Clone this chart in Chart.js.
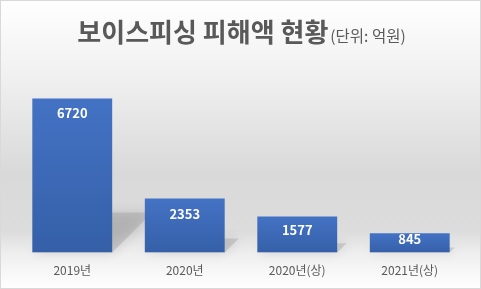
<!DOCTYPE html>
<html><head><meta charset="utf-8">
<script src="https://cdn.jsdelivr.net/npm/chart.js@4"></script>
<style>html,body{margin:0;padding:0;background:#fff}#wrap{width:481px;height:289px;position:relative}</style>
</head><body><div id="wrap"><canvas id="c"></canvas></div>
<script>
const categories = ['2019년', '2020년', '2020년(상)', '2021년(상)'];
const damageValues = [6720, 2353, 1577, 845];
const titleMain = '보이스피싱 피해액 현황';
const titleUnit = '(단위: 억원)';
const FONT = '"Noto Sans CJK KR", "Noto Sans", sans-serif';

const bgPlugin = {
  id: 'bg',
  beforeDraw(chart) {
    const {ctx, width, height} = chart;
    const g = ctx.createLinearGradient(0, 0, 0, height);
    g.addColorStop(0, '#ffffff');
    g.addColorStop(0.25, '#f1f1f1');
    g.addColorStop(0.6, '#d9d9d9');
    g.addColorStop(0.8, '#dcdcdc');
    g.addColorStop(0.88, '#efefef');
    g.addColorStop(1, '#ffffff');
    ctx.save();
    ctx.fillStyle = g;
    ctx.fillRect(0, 0, width, height);
    ctx.strokeStyle = '#d9d9d9';
    ctx.lineWidth = 1;
    ctx.strokeRect(0.5, 0.5, width - 1, height - 1);
    ctx.fillStyle = '#595959';
    ctx.textBaseline = 'alphabetic';
    ctx.font = 'bold 26px ' + FONT;
    const w1 = ctx.measureText(titleMain).width;
    ctx.font = '15.5px ' + FONT;
    const w2 = ctx.measureText(titleUnit).width;
    const x0 = (width - w1 - w2) / 2;
    ctx.font = 'bold 26px ' + FONT;
    ctx.textAlign = 'left';
    ctx.fillText(titleMain, x0, 42);
    ctx.font = '15.5px ' + FONT;
    ctx.fillText(titleUnit, x0 + w1 + 2, 42);
    ctx.restore();
  },
  beforeDatasetsDraw(chart) {
    const {ctx} = chart;
    const meta = chart.getDatasetMeta(0);
    ctx.save();
    meta.data.forEach(bar => {
      const left = bar.x - bar.width / 2, right = bar.x + bar.width / 2;
      const bottom = bar.base, h = bar.base - bar.y;
      const s = h * 0.26;
      ctx.shadowColor = 'rgba(0,0,0,0.35)';
      ctx.shadowBlur = 12;
      ctx.fillStyle = 'rgba(150,150,150,0.35)';
      ctx.beginPath();
      ctx.moveTo(left, bottom);
      ctx.lineTo(right, bottom);
      ctx.lineTo(right + s, bottom - s);
      ctx.lineTo(left + s, bottom - s);
      ctx.closePath();
      ctx.fill();
    });
    ctx.restore();
  },
  afterDatasetsDraw(chart) {
    const {ctx} = chart;
    const meta = chart.getDatasetMeta(0);
    ctx.save();
    ctx.fillStyle = '#ffffff';
    ctx.font = 'bold 13px ' + FONT;
    ctx.textAlign = 'center';
    ctx.textBaseline = 'middle';
    meta.data.forEach((bar, i) => {
      const mid = (bar.y + bar.base) / 2;
      const y = Math.min(bar.y + 15, mid - 4);
      ctx.fillText(String(damageValues[i]), bar.x, y);
    });
    ctx.restore();
  }
};

new Chart(document.getElementById('c'), {
  type: 'bar',
  data: {
    labels: categories,
    datasets: [{
      data: damageValues,
      backgroundColor(ctx) {
        const chart = ctx.chart;
        const ca = chart.chartArea;
        const ys = chart.scales.y;
        if (!ca || !ys) return '#4472c4';
        const top = ys.getPixelForValue(damageValues[ctx.dataIndex]);
        const bot = ys.getPixelForValue(0);
        if (!isFinite(top) || !isFinite(bot) || top === bot) return '#4472c4';
        const g = chart.ctx.createLinearGradient(0, top, 0, bot);
        g.addColorStop(0, '#4472c4');
        g.addColorStop(1, '#3560a8');
        return g;
      },
      borderWidth: 0,
      categoryPercentage: 1,
      barPercentage: 0.71
    }]
  },
  options: {
    responsive: true,
    maintainAspectRatio: false,
    animation: false,
    layout: {padding: {top: 69, left: 16, right: 15, bottom: 0}},
    plugins: {legend: {display: false}, tooltip: {enabled: false}, title: {display: false}},
    scales: {
      x: {
        grid: {display: false, drawTicks: false},
        border: {display: false},
        ticks: {color: '#595959', font: {family: FONT, size: 12}, padding: 11}
      },
      y: {display: false, min: 0, max: 8000}
    }
  },
  plugins: [bgPlugin]
});
</script></body></html>
